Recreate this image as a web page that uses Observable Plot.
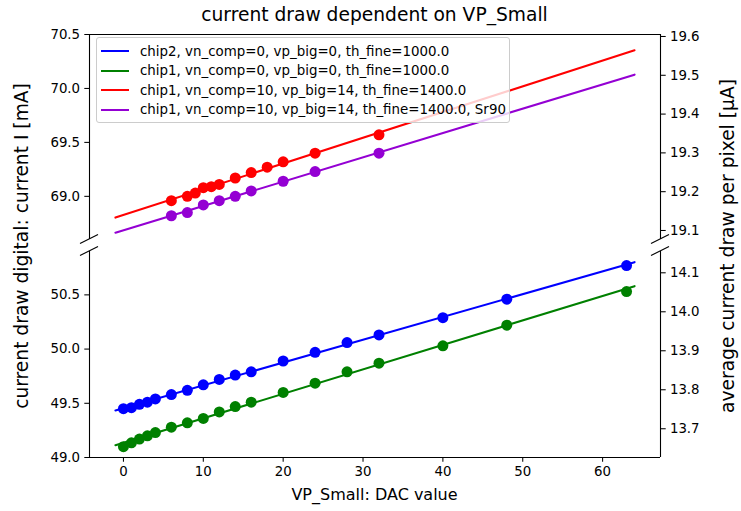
<!DOCTYPE html>
<html>
<head>
<meta charset="utf-8">
<script src="https://cdn.jsdelivr.net/npm/d3@7"></script>
<script src="https://cdn.jsdelivr.net/npm/@observablehq/plot@0.6"></script>
<style>
  body { margin: 0; background: #fff; }
  #fig { position: relative; width: 741px; height: 511px; font-family: "DejaVu Sans", sans-serif; color: #000; overflow: hidden; background: #fff; }
  #fig svg { position: absolute; left: 0; overflow: visible; }
  .lbl { position: absolute; white-space: nowrap; font-size: 18.67px; line-height: 1; transform: translate(-50%, -50%); }
  .lbl.small { font-size: 16px; }
  .lbl.rot { transform: translate(-50%, -50%) rotate(-90deg); }
  .legend { position: absolute; left: 96px; top: 37px; width: 414px; height: 86px; box-sizing: border-box;
            background: rgba(255,255,255,0.8); border: 1px solid #cccccc; border-radius: 3px; }
  .legend .row { position: absolute; left: 0; height: 18px; display: flex; align-items: center; font-size: 13.4px; white-space: nowrap; }
  .legend .swatch { width: 28px; height: 2.1px; margin-left: 4px; margin-right: 11px; }
</style>
</head>
<body>
<div id="fig"></div>
<script>
// DAC settings scanned for VP_Small
const dacSteps = [0, 1, 2, 3, 4, 6, 8, 10, 12, 14, 16, 20, 24, 28, 32, 40, 48, 63];
const dacStepsComp = [6, 8, 9, 10, 11, 12, 14, 16, 18, 20, 24, 32];
const dacStepsSr90 = [6, 8, 10, 12, 14, 16, 20, 24, 32];

// measured digital current draw [mA]
const chip2Base = [49.45, 49.46, 49.49, 49.51, 49.54, 49.58, 49.62, 49.67, 49.72, 49.76, 49.79, 49.89, 49.97, 50.06, 50.13, 50.29, 50.46, 50.77];
const chip1Base = [49.10, 49.135, 49.17, 49.20, 49.23, 49.28, 49.32, 49.36, 49.42, 49.47, 49.51, 49.60, 49.685, 49.79, 49.87, 50.03, 50.22, 50.53];
const chip1Comp = [68.96, 69.00, 69.03, 69.08, 69.09, 69.11, 69.17, 69.22, 69.27, 69.32, 69.40, 69.57];
const chip1Sr90 = [68.82, 68.85, 68.92, 68.96, 69.00, 69.05, 69.14, 69.23, 69.40];

const seriesNames = [
  "chip2, vn_comp=0, vp_big=0, th_fine=1000.0",
  "chip1, vn_comp=0, vp_big=0, th_fine=1000.0",
  "chip1, vn_comp=10, vp_big=14, th_fine=1400.0",
  "chip1, vn_comp=10, vp_big=14, th_fine=1400.0, Sr90"
];
const seriesColors = ["#0000ff", "#008000", "#ff0000", "#9400d3"];

// linear fits are drawn over this DAC range
const fitRange = [-1, 64];

// axis limits of the two halves of the broken axis [mA]
const upperRange = [68.6, 70.5];
const lowerRange = [49.0, 50.9];

// tick labels
const xTicks = [0, 10, 20, 30, 40, 50, 60];
const upperTicks = [69.0, 69.5, 70.0, 70.5];
const lowerTicks = [49.0, 49.5, 50.0, 50.5];
const upperTicksPerPixel = [19.1, 19.2, 19.3, 19.4, 19.5, 19.6];
const lowerTicksPerPixel = [13.7, 13.8, 13.9, 14.0, 14.1];

// number of pixels sharing the digital supply (mA -> µA per pixel)
const pixelCount = 3596;
const toMicroamp = mA => mA * 1000 / pixelCount;
const toMilliamp = uA => uA * pixelCount / 1000;

// x limits with 5% padding around the fitted range
const pad = 0.05 * (fitRange[1] - fitRange[0]);
const xDomain = [fitRange[0] - pad, fitRange[1] + pad];

function fitLine(xs, ys) {
  const mx = d3.mean(xs), my = d3.mean(ys);
  let sxy = 0, sxx = 0;
  xs.forEach((x, i) => { sxy += (x - mx) * (ys[i] - my); sxx += (x - mx) ** 2; });
  const slope = sxy / sxx, intercept = my - slope * mx;
  return fitRange.map(x => ({x, y: intercept + slope * x}));
}
const toPoints = (xs, ys) => xs.map((x, i) => ({x, y: ys[i]}));

const series = [
  {xs: dacSteps, ys: chip2Base, color: seriesColors[0]},
  {xs: dacSteps, ys: chip1Base, color: seriesColors[1]},
  {xs: dacStepsComp, ys: chip1Comp, color: seriesColors[2]},
  {xs: dacStepsSr90, ys: chip1Sr90, color: seriesColors[3]}
];

const W = 741, ML = 89, MR = 81;
const axisStyle = {tickSize: 4.7, tickPadding: 4.7, strokeWidth: 1.05, label: null};

function panel({yDomain, yTicks, perPixelTicks, list, height, marginTop, marginBottom, closedEdge, showX}) {
  const marks = [
    Plot.ruleX(xDomain, {stroke: "#000", strokeWidth: 1.1}),
    Plot.ruleY([closedEdge], {stroke: "#000", strokeWidth: 1.1})
  ];
  for (const s of list) {
    marks.push(Plot.line(fitLine(s.xs, s.ys), {x: "x", y: "y", stroke: s.color, strokeWidth: 2.1}));
    marks.push(Plot.dot(toPoints(s.xs, s.ys), {x: "x", y: "y", r: 5.5, fill: s.color}));
  }
  marks.push(Plot.axisY(yTicks, {anchor: "left", tickFormat: d3.format(".1f"), ...axisStyle}));
  marks.push(Plot.axisY(perPixelTicks.map(toMilliamp), {anchor: "right", tickFormat: d => toMicroamp(d).toFixed(1), ...axisStyle}));
  if (showX) marks.push(Plot.axisX(xTicks, {anchor: "bottom", tickFormat: d3.format("d"), ...axisStyle}));
  return Plot.plot({
    width: W, height, marginTop, marginBottom, marginLeft: ML, marginRight: MR,
    x: showX ? {domain: xDomain} : {domain: xDomain, axis: null},
    y: {domain: yDomain},
    style: {fontFamily: "DejaVu Sans, sans-serif", fontSize: "13.33px", color: "#000", background: "transparent", overflow: "visible"},
    marks
  });
}

// diagonal cut marks on both spines at the open edge of a panel
function addBreaks(chart, yValue) {
  const sx = chart.scale("x"), sy = chart.scale("y");
  const y = sy.apply(yValue);
  const g = d3.select(chart).append("g").attr("stroke", "#000").attr("stroke-width", 1.1);
  for (const xv of xDomain) {
    const x = sx.apply(xv);
    g.append("line").attr("x1", x - 9).attr("y1", y + 4.5).attr("x2", x + 9).attr("y2", y - 4.5);
  }
}

const fig = document.getElementById("fig");

const upper = panel({
  yDomain: upperRange, yTicks: upperTicks, perPixelTicks: upperTicksPerPixel,
  list: [series[2], series[3]], height: 245, marginTop: 34, marginBottom: 6,
  closedEdge: upperRange[1], showX: false
});
upper.style.top = "0px";
addBreaks(upper, upperRange[0]);
fig.appendChild(upper);

const lower = panel({
  yDomain: lowerRange, yTicks: lowerTicks, perPixelTicks: lowerTicksPerPixel,
  list: [series[0], series[1]], height: 266, marginTop: 6, marginBottom: 54,
  closedEdge: lowerRange[0], showX: true
});
lower.style.top = "245px";
addBreaks(lower, lowerRange[1]);
fig.appendChild(lower);

// texts
function label(text, x, y, cls) {
  const d = document.createElement("div");
  d.className = "lbl" + (cls ? " " + cls : "");
  d.textContent = text;
  d.style.left = x + "px";
  d.style.top = y + "px";
  fig.appendChild(d);
}
const plotCenterX = (ML + (W - MR)) / 2;
label("current draw dependent on VP_Small", plotCenterX, 15);
label("VP_Small: DAC value", plotCenterX, 495, "small");
label("current draw digital: current I [mA]", 22, 245.5, "rot");
label("average current draw per pixel [µA]", 728, 245.5, "rot");

// legend
const legend = document.createElement("div");
legend.className = "legend";
seriesNames.forEach((name, i) => {
  const row = document.createElement("div");
  row.className = "row";
  row.style.top = (4 + i * 19.6) + "px";
  const sw = document.createElement("div");
  sw.className = "swatch";
  sw.style.background = seriesColors[i];
  const t = document.createElement("span");
  t.textContent = name;
  row.appendChild(sw);
  row.appendChild(t);
  legend.appendChild(row);
});
fig.appendChild(legend);
</script>
</body>
</html>
